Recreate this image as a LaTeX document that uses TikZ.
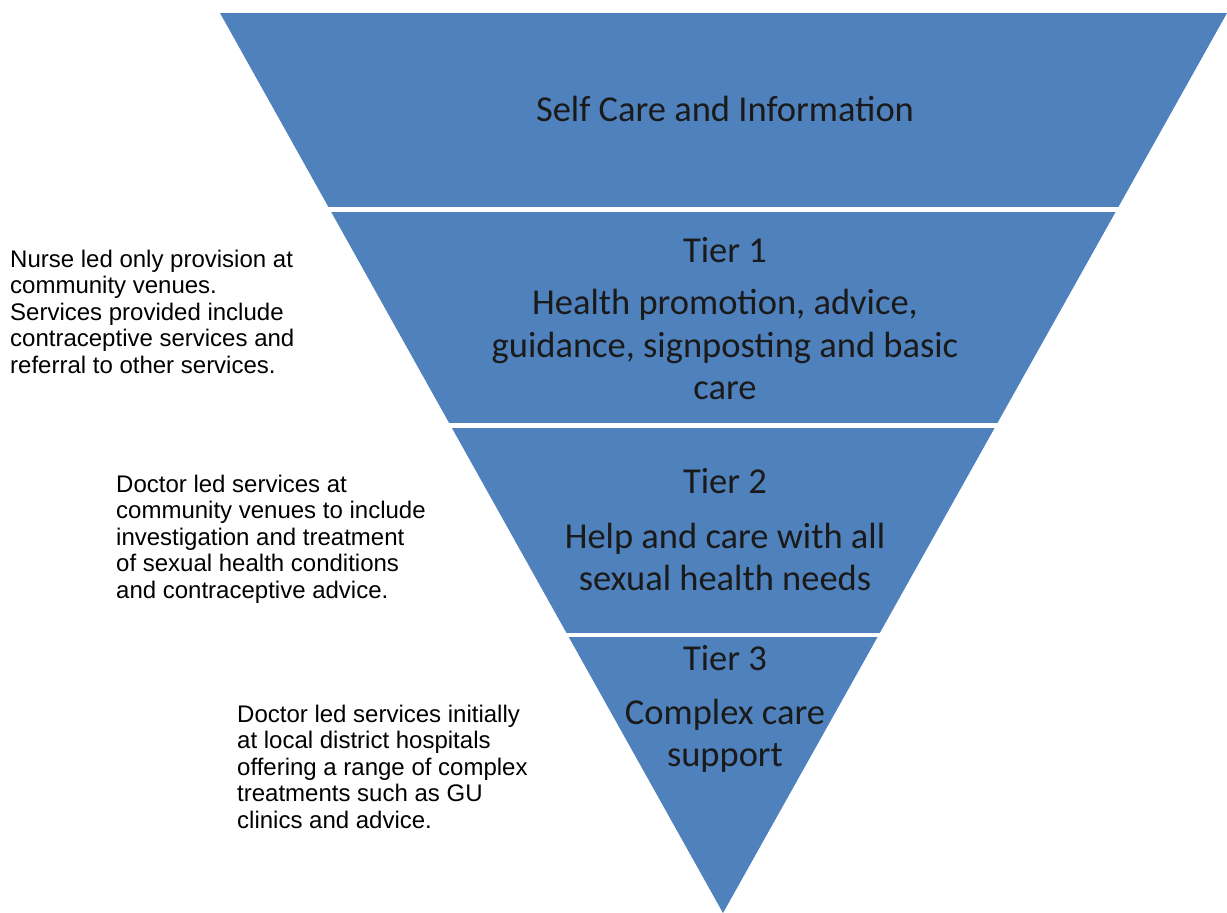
\documentclass[tikz,border=0pt]{standalone}
\usepackage{fontspec}
\setmainfont{Carlito}
\newfontfamily\arialfont{Liberation Sans}
\definecolor{tierblue}{HTML}{4F81BD}
\definecolor{tiertext}{HTML}{1A1A1A}
\tikzset{
  tierlabel/.style={anchor=base, inner sep=0pt, text=tiertext, font=\fontsize{36.5}{41.5}\selectfont},
  tierbody/.style={anchor=north, inner sep=0pt, align=center, text=tiertext, font=\fontsize{36.5}{41.5}\selectfont},
  sidenote/.style={anchor=north west, inner sep=0pt, align=left, text=black, font=\arialfont\fontsize{24}{26.5}\selectfont},
  gap/.style={white, line width=4.5pt}
}
\begin{document}
\begin{tikzpicture}[x=1pt, y=-1pt]
\useasboundingbox (0,0) rectangle (1227,913);
\fill[tierblue] (220,13) -- (1227,13) -- (723,913) -- cycle;
\draw[gap] (200,209.5) -- (1227,209.5);
\draw[gap] (200,425.5) -- (1227,425.5);
\draw[gap] (200,635) -- (1227,635);

\node[tierlabel] (self) at (725,121) {Self Care and Information};
\node[tierlabel] (t1) at (725,262) {Tier 1};
\node[tierbody, font=\fontsize{36.5}{42.5}\selectfont] (t1b) at (725,289) {Health promotion, advice,\\guidance, signposting and basic\\care};
\node[tierlabel] (t2) at (725,493) {Tier 2};
\node[tierbody] (t2b) at (725,523) {Help and care with all\\sexual health needs};
\node[tierlabel] (t3) at (725,670) {Tier 3};
\node[tierbody] (t3b) at (725,699) {Complex care\\support};

\node[sidenote] (n1) at (10,249.5) {Nurse led only provision at\\community venues.\\Services provided include\\contraceptive services and\\referral to other services.};
\node[sidenote] (n2) at (116,474.5) {Doctor led services at\\community venues to include\\investigation and treatment\\of sexual health conditions\\and contraceptive advice.};
\node[sidenote] (n3) at (237,704.5) {Doctor led services initially\\at local district hospitals\\offering a range of complex\\treatments such as GU\\clinics and advice.};
\end{tikzpicture}
\end{document}
